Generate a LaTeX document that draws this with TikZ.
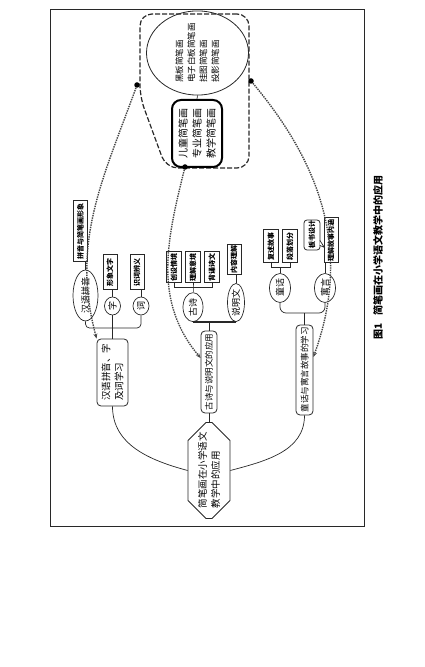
\documentclass[tikz,border=0pt]{standalone}
\usepackage{fontspec}
\setmainfont{Noto Sans CJK SC}
\usepackage{tikz}
\usetikzlibrary{
  shapes.geometric,
  shapes.misc,
  arrows.meta,
  positioning,
  calc
}
\definecolor{inkgray}{RGB}{40,40,40}
\definecolor{dotgray}{RGB}{70,70,70}

\begin{document}
\begin{tikzpicture}[
  x=1pt, y=1pt,
  root/.style={
    chamfered rectangle, chamfered rectangle xsep=9pt, chamfered rectangle ysep=9pt,
    draw=inkgray, line width=0.8pt, inner sep=1pt, align=left,
    font=\fontsize{9.5}{13}\selectfont
  },
  topic/.style={
    rectangle, rounded corners=4pt, draw=inkgray, line width=0.8pt, fill=white,
    inner sep=1pt, align=left, font=\fontsize{8.5}{13}\selectfont
  },
  sub/.style={
    ellipse, draw=inkgray, line width=0.7pt, inner sep=0pt,
    font=\fontsize{9}{10}\selectfont
  },
  leaf/.style={
    rectangle, draw=inkgray, line width=1pt, inner sep=0.5pt,
    minimum height=14pt, font=\fontsize{7}{8}\selectfont\bfseries
  },
  branch/.style={inkgray, line width=0.7pt},
  link/.style={densely dotted, line width=1.4pt, dotgray, -{Stealth[length=5pt,width=4pt]}},
  dot/.style={circle, fill=black, inner sep=0pt, minimum size=5.5pt}
]
  \useasboundingbox (0,0) rectangle (425,667);
  \begin{scope}[shift={(425,0)}, rotate=90, transform shape]
  % frame and caption
  \draw[line width=0.9pt, inkgray] (141,61) rectangle (658,375);
  \node[anchor=west, font=\fontsize{10}{12}\selectfont\bfseries] (caption) at (324,47)
    {图1\hspace{8pt}简笔画在小学语文教学中的应用};

  % root and first level
  \node[root] (root) at (196.5,216) {简笔画在小学语文\\教学中的应用};
  \node[topic, minimum width=67pt, minimum height=31pt, font=\fontsize{9.5}{13}\selectfont]
    (hanyu) at (294.5,312.5) {汉语拼音、字\\及词学习};
  \node[topic, minimum width=82pt, minimum height=16pt] (shiwen) at (295,216) {古诗与说明文的应用};
  \node[topic, minimum width=90pt, minimum height=17pt] (tongyu) at (297,120.5) {童话与寓言故事的学习};

  \draw[branch] (root.north) to[out=75,in=180] (hanyu.west);
  \draw[branch] (root.east) -- (shiwen.west);
  \draw[branch] (root.south) to[out=-75,in=180] (tongyu.west);

  % pinyin, zi, ci
  \node[sub, minimum width=45pt, minimum height=25pt] (pinyin) at (371.5,339.5) {汉语拼音};
  \node[sub, minimum width=18pt, minimum height=16pt] (zi) at (361,312.5) {字};
  \node[sub, minimum width=18pt, minimum height=16pt] (ci) at (361,284) {词};
  \coordinate (forkA) at (339,312.5);
  \draw[branch] (hanyu.east) -- (forkA) -- (zi.west);
  \draw[branch, rounded corners=4pt] (pinyin.west) -| (forkA) |- (ci.west);

  \node[leaf, minimum width=61pt] (pyxx) at (435.5,344.5) {拼音与简笔画形象};
  \node[leaf, minimum width=35pt] (xxwz) at (394.5,315) {形象文字};
  \node[leaf, minimum width=35pt] (scbj) at (394.5,288) {识词辨义};
  \draw[branch] (pinyin.east) -- (pinyin.east -| pyxx.west);
  \draw[branch] (zi.east) -- (zi.east -| xxwz.west);
  \draw[branch] (ci.east) -- (ci.east -| scbj.west);

  % gushi, shuoming
  \node[sub, minimum width=29pt, minimum height=20pt, anchor=west] (gushi) at (345,232) {古诗};
  \node[sub, minimum width=36pt, minimum height=17pt, anchor=west] (shuoming) at (345,189) {说明文};
  \draw[branch, line width=1.3pt] (gushi.west) -- (shuoming.west);
  \draw[branch] (shiwen.east) -- (shiwen.east -| gushi.west);

  \node[leaf, minimum width=31pt, minimum height=15pt] (ljyj) at (399.5,232) {理解意境};
  \node[leaf, minimum width=31pt, minimum height=15pt, above=3pt of ljyj] (cssj) {创设情境};
  \node[leaf, minimum width=31pt, minimum height=15pt, below=3pt of ljyj] (bssw) {背诵诗文};
  \coordinate (forkG) at (380,232);
  \draw[branch] (gushi.east) -- (forkG) -- (ljyj.west);
  \draw[branch] (cssj.west) -- (cssj.west -| forkG) -- (bssw.west -| forkG) -- (bssw.west);

  \node[leaf, minimum width=30pt] (nrlj) at (407,191) {内容理解};
  \draw[branch] (shuoming.east) -- (shuoming.east -| nrlj.west);

  % tonghua, yuyan
  \node[sub, minimum width=29pt, minimum height=21pt] (tonghua) at (379,145) {童话};
  \node[sub, minimum width=29pt, minimum height=21pt] (yuyan) at (379,100) {寓言};
  \coordinate (forkT) at (354,120.5);
  \draw[branch] (tongyu.east) -- (forkT);
  \draw[branch, rounded corners=6pt] (tonghua.west) -| (forkT) |- (yuyan.west);

  \node[leaf, minimum width=33pt, minimum height=15pt] (fsgs) at (420.5,154) {复述故事};
  \node[leaf, minimum width=33pt, minimum height=15pt, below=3pt of fsgs] (dlhf) {段落划分};
  \coordinate (forkF) at (400,145);
  \draw[branch] (tonghua.east) -- (forkF);
  \draw[branch] (fsgs.west) -- (fsgs.west -| forkF) -- (dlhf.west -| forkF) -- (dlhf.west);

  \node[leaf, minimum width=45pt] (ljnh) at (426.5,94) {理解故事内涵};
  \draw[branch] (yuyan.east) -- (yuyan.east -| ljnh.west);
  \node[topic, rounded corners=3pt, minimum width=26pt, minimum height=16pt,
    font=\fontsize{7}{8}\selectfont\bfseries] (bssj) at (432,113) {板书设计};
  \draw[branch, fill=white] ($(bssj.south west)+(5,0.6)$) -- ($(bssj.south west)+(3,-4)$)
    -- ($(bssj.south west)+(10,0.6)$);

  % tools container
  \draw[dash pattern=on 5pt off 2pt, line width=1.2pt, inkgray, rounded corners=12pt]
    (653,176) -- (653,285) -- (570,285) -- (499,259) -- (499,176) -- cycle;
  \node[ellipse, draw=inkgray, line width=0.8pt, minimum width=70pt, minimum height=102pt,
    inner sep=0pt, align=left, font=\fontsize{8.5}{12}\selectfont]
    (tools) at (614,227.5) {黑板简笔画\\电子白板简笔画\\挂图简笔画\\投影简笔画};
  \node[draw=black, line width=2pt, rounded corners=9pt, minimum width=67pt, minimum height=50pt,
    inner sep=1pt, align=left, font=\fontsize{10}{14}\selectfont]
    (kinds) at (533.5,228) {儿童简笔画\\专业简笔画\\教学简笔画};
  \draw[branch] (kinds.east) -- (tools.west);

  % dotted links
  \node[dot] (dotA) at (582,288) {};
  \node[dot] (dotB) at (500,240) {};
  \node[dot] (dotC) at (586,174) {};
  \draw[link] (dotA) to[out=160,in=15] (hanyu.north east);
  \draw[link] (dotB) to[out=166,in=40] ([xshift=14pt]shiwen.north);
  \draw[link] (dotC) to[out=220,in=-20] ([xshift=13pt]tongyu.south);
  \end{scope}
\end{tikzpicture}
\end{document}
